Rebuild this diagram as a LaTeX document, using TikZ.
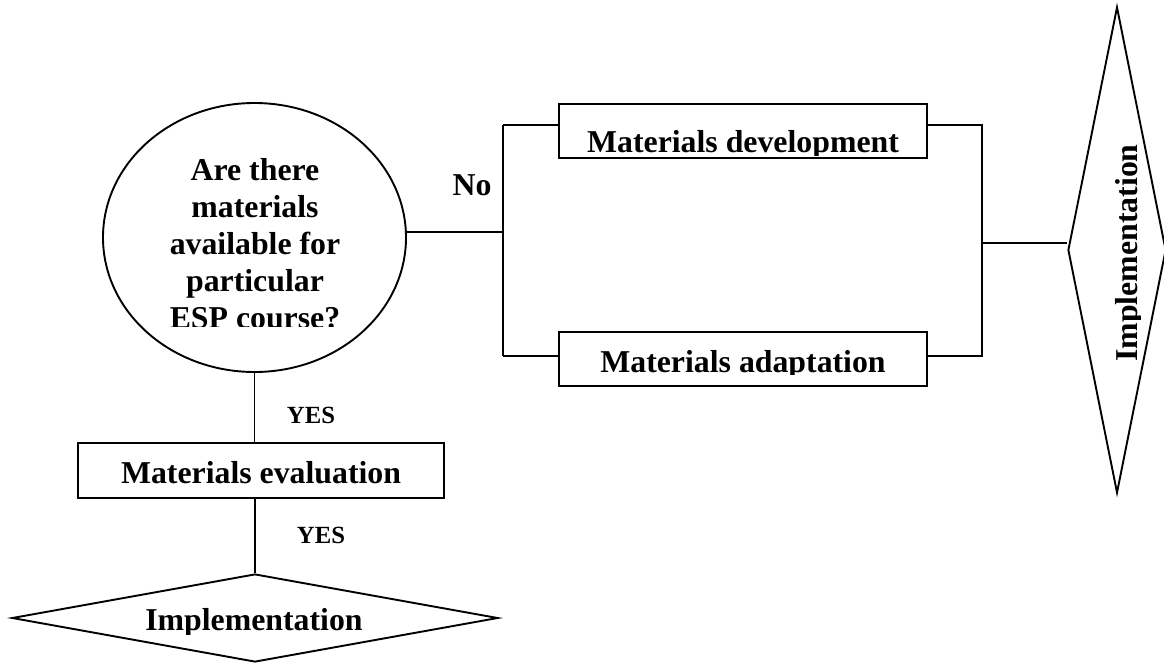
\documentclass[tikz,border=0pt]{standalone}
\usepackage{fontspec}
\setmainfont{Liberation Serif}
\usetikzlibrary{shapes.geometric}
\begin{document}
\begin{tikzpicture}[x=1pt,y=-1pt,line width=1.9pt,
  big/.style={font=\fontsize{31.8}{37}\selectfont\bfseries, inner sep=0pt},
  small/.style={font=\fontsize{24.7}{28}\selectfont\bfseries, inner sep=0pt},
  box/.style={draw, rectangle, inner sep=0pt, minimum width=368pt, minimum height=54pt},
  shape0/.style={draw, inner sep=0pt}]
\useasboundingbox (0,0) rectangle (1164,664);
\fill[white] (0,0) rectangle (1164,664);
\clip (0,0) rectangle (1164,664);
% shapes
\node[shape0, ellipse, minimum width=303pt, minimum height=269pt] (e) at (254.5,237.5) {};
\node[box] (dev) at (743,131) {};
\node[box] (ada) at (743,359) {};
\node[box, minimum width=366pt, minimum height=55pt] (eval) at (261,470.5) {};
\node[shape0, diamond, minimum width=98pt, minimum height=486pt] (imp1) at (1117,250) {};
\node[shape0, diamond, minimum width=486pt, minimum height=88pt] (imp2) at (255,618) {};
% texts
\begin{scope}
\clip (100,100) rectangle (410,326);
\node[big, anchor=base, align=center] (q) at (255,328) {Are there\\materials\\available for\\particular\\ESP course?};
\end{scope}
\begin{scope}
\clip (559,104) rectangle (927,155);
\node[big, anchor=base] (devt) at (743,152) {Materials development};
\end{scope}
\begin{scope}
\clip (559,332) rectangle (927,374);
\node[big, anchor=base] (adat) at (743,372) {Materials adaptation};
\end{scope}
\node[big, anchor=base] (evalt) at (261,483) {Materials evaluation};
\begin{scope}
\clip (1060,0) rectangle (1140,664);
\node[big, anchor=base, rotate=90] (imp1t) at (1137,253) {Implementation};
\end{scope}
\begin{scope}
\clip (0,575) rectangle (520,634);
\node[big, anchor=base] (imp2t) at (254,630) {Implementation};
\end{scope}
\node[big, anchor=base] (no) at (472,195) {No};
\node[small, anchor=base] (yes1) at (311,423) {YES};
\node[small, anchor=base] (yes2) at (321,543) {YES};
% connectors
\coordinate (bt) at (503,125);
\coordinate (bb) at (503,356);
\coordinate (rt) at (982,125);
\coordinate (rb) at (982,356);
\coordinate (rm) at (982,243);
\draw (e.2) -- (e.2 -| bt);
\draw (bt) -- (bb);
\draw (bt) -- (bt -| dev.west);
\draw (bb) -- (bb -| ada.west);
\draw (dev.east |- rt) -- (rt) -- (rb) -- (ada.east |- rb);
\draw (rm) -- (rm -| imp1.west);
\draw (e.south) -- (e.south |- eval.north);
\draw (imp2.north |- eval.south) -- (imp2.north);
\end{tikzpicture}
\end{document}
